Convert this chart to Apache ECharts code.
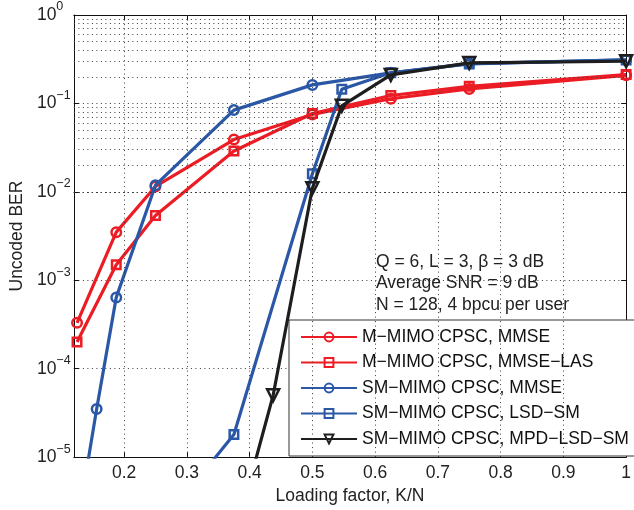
<!DOCTYPE html>
<html><head><meta charset="utf-8">
<script src="https://cdn.jsdelivr.net/npm/echarts@6/dist/echarts.min.js"></script>
<style>html,body{margin:0;padding:0;background:#fff}#c{width:634px;height:510px}</style>
</head><body><div id="c"></div>
<script>
// ---- data ----
const seriesNames = [
  'M\u2212MIMO CPSC, MMSE',
  'M\u2212MIMO CPSC, MMSE\u2212LAS',
  'SM\u2212MIMO CPSC, MMSE',
  'SM\u2212MIMO CPSC, LSD\u2212SM',
  'SM\u2212MIMO CPSC, MPD\u2212LSD\u2212SM'
];
const mMmseX = [0.125, 0.1875, 0.25, 0.375, 0.5, 0.625, 0.75, 1.0];
const mMmseY = [3.3e-4, 3.5e-3, 0.0115, 0.039, 0.075, 0.113, 0.146, 0.208];
const mLasX  = [0.125, 0.1875, 0.25, 0.375, 0.5, 0.625, 0.75, 1.0];
const mLasY  = [2.0e-4, 1.5e-3, 5.4e-3, 0.029, 0.077, 0.123, 0.156, 0.212];
const smMmseX = [0.125, 0.15625, 0.1875, 0.25, 0.375, 0.5, 0.625, 0.75, 1.0];
const smMmseY = [1.6e-6, 3.5e-5, 6.4e-4, 0.0119, 0.084, 0.162, 0.222, 0.282, 0.31];
const smLsdX = [0.3125, 0.375, 0.5, 0.546875, 0.625, 0.75, 1.0];
const smLsdY = [5.1e-6, 1.8e-5, 0.016, 0.145, 0.222, 0.28, 0.31];
const smMpdX = [0.375, 0.4375, 0.5, 0.546875, 0.625, 0.75, 1.0];
const smMpdY = [1.15e-6, 5.0e-5, 0.011, 0.094, 0.21, 0.287, 0.30];
const xTickValues = [0.2, 0.3, 0.4, 0.5, 0.6, 0.7, 0.8, 0.9, 1.0];
const xGridValues = [0.2, 0.3, 0.4, 0.5, 0.6, 0.7, 0.8, 0.9];
const yDecades = [1e-5, 1e-4, 1e-3, 1e-2, 1e-1];
const yMinorMultipliers = [2, 3, 4, 5, 6, 7, 8, 9];
const annotationLines = ['Q = 6, L = 3, \u03b2 = 3 dB', 'Average SNR = 9 dB', 'N = 128, 4 bpcu per user'];

// ---- styles ----
const FONT = '"Liberation Sans", Arial, Helvetica, sans-serif';
const RED = '#EC1C24', BLUE = '#2A58A6', BLACK = '#1E1E1E';
const gridDot = {type: [1, 3.5], color: '#3a3a3a', width: 1};

const zip = (xs, ys) => xs.map((x, i) => [x, ys[i]]);
function mkSeries(name, xs, ys, color, symbol, size, rotate, z) {
  return {
    name, type: 'line', data: zip(xs, ys), z,
    symbol, symbolSize: size, symbolRotate: rotate || 0,
    clip: true, animation: false,
    lineStyle: {color, width: 3.2},
    itemStyle: {color: 'rgba(0,0,0,0)', borderColor: color, borderWidth: 2.5},
    emphasis: {disabled: true}
  };
}
const minorY = [];
yDecades.forEach(d => yMinorMultipliers.forEach(m => minorY.push(d * m)));

const option = {
  backgroundColor: '#fff',
  animation: false,
  textStyle: {fontFamily: FONT},
  grid: {left: 72, right: 2, top: 15, bottom: 50},
  xAxis: [{
    type: 'value', min: 0.12, max: 1, position: 'bottom',
    name: 'Loading factor, K/N', nameLocation: 'middle', nameGap: 28,
    nameTextStyle: {fontSize: 17.5, color: '#222', fontFamily: FONT},
    axisLine: {show: true, onZero: false, lineStyle: {color: '#111', width: 1}},
    axisTick: {show: true, inside: true, length: 5, customValues: xTickValues, lineStyle: {color: '#111'}},
    axisLabel: {customValues: xTickValues, margin: 7, fontSize: 17.5, color: '#222', fontFamily: FONT,
      formatter: v => String(+v.toFixed(1))},
    splitLine: {show: false}
  }, {
    type: 'value', min: 0.12, max: 1, position: 'top',
    axisLine: {show: true, onZero: false, lineStyle: {color: '#111', width: 1}},
    axisTick: {show: true, inside: true, length: 5, customValues: xTickValues, lineStyle: {color: '#111'}},
    axisLabel: {show: false}, splitLine: {show: false}
  }],
  yAxis: [{
    type: 'log', logBase: 10, min: 1e-5, max: 1, position: 'left',
    name: 'Uncoded BER', nameLocation: 'middle', nameGap: 46, nameRotate: 90,
    nameTextStyle: {fontSize: 17.5, color: '#222', fontFamily: FONT},
    axisLine: {show: true, onZero: false, lineStyle: {color: '#111', width: 1}},
    axisTick: {show: true, inside: true, length: 5, lineStyle: {color: '#111'}},
    axisLabel: {
      margin: 37, align: 'left',
      formatter: v => { const e = Math.round(Math.log10(v)); return '{b|10}{s|' + (e < 0 ? '\u2212' + (-e) : e) + '}'; },
      rich: {
        b: {fontSize: 17.5, color: '#222', fontFamily: FONT},
        s: {fontSize: 12.5, color: '#222', fontFamily: FONT, padding: [0, 0, 16, 0]}
      }
    },
    splitLine: {show: true, lineStyle: gridDot}
  }, {
    type: 'log', logBase: 10, min: 1e-5, max: 1, position: 'right',
    axisLine: {show: true, onZero: false, lineStyle: {color: '#111', width: 1}},
    axisTick: {show: true, inside: true, length: 5, lineStyle: {color: '#111'}},
    axisLabel: {show: false}, splitLine: {show: false}
  }],
  legend: {
    data: seriesNames, orient: 'vertical', left: 289, top: 320,
    padding: [8, 6, 8, 11], itemWidth: 56, itemHeight: 11, itemGap: 7.5,
    borderColor: '#333', borderWidth: 1, backgroundColor: '#fff',
    textStyle: {fontSize: 17.5, color: '#111', fontFamily: FONT},
    selectedMode: false
  },
  graphic: annotationLines.map((t, i) => ({
    type: 'text', left: 376, top: 253 + i * 21.5, silent: true,
    style: {text: t, fontSize: 17.5, fontFamily: FONT, fill: '#222'}
  })),
  series: [
    {
      name: 'grid', type: 'line', data: [], silent: true, z: 0,
      markLine: {
        silent: true, symbol: 'none', label: {show: false}, animation: false,
        lineStyle: gridDot, emphasis: {disabled: true},
        data: minorY.map(v => ({yAxis: v})).concat(xGridValues.map(v => ({xAxis: v})))
      }
    },
    mkSeries(seriesNames[0], mMmseX, mMmseY, RED, 'circle', 9.5, 0, 3),
    mkSeries(seriesNames[1], mLasX, mLasY, RED, 'rect', 8.5, 0, 3),
    mkSeries(seriesNames[2], smMmseX, smMmseY, BLUE, 'circle', 9.5, 0, 4),
    mkSeries(seriesNames[3], smLsdX, smLsdY, BLUE, 'rect', 8.5, 0, 4),
    mkSeries(seriesNames[4], smMpdX, smMpdY, BLACK, 'triangle', 12, 180, 5)
  ]
};
const chart = echarts.init(document.getElementById('c'), null, {renderer: 'canvas'});
chart.setOption(option);
</script>
</body></html>
